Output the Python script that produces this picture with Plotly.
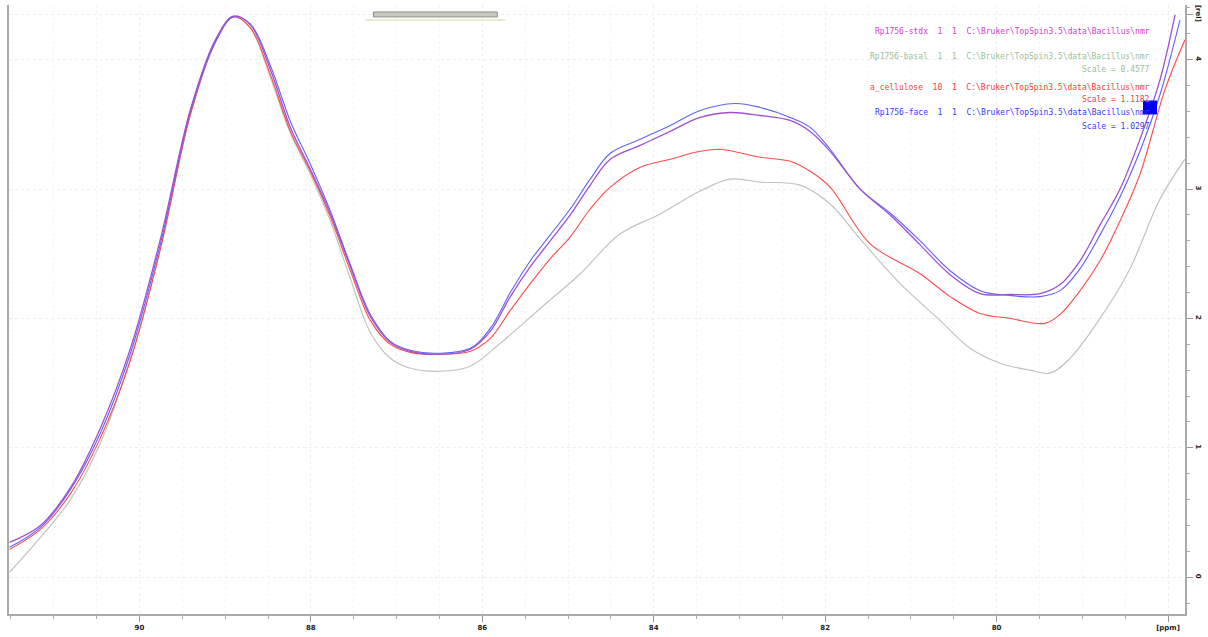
import plotly.graph_objects as go

# ---- data (ppm, relative intensity) ----
W, H = 1208, 637
L, R, T, B = 8.5, 1185, 5, 617

def ppm(x):
    return 90 - (x - 139) / 85.75

def rel(y):
    return (580 - y) / 130

stdx_px = [(9,545),(40,528),(70,490),(100,430),(130,350),(160,240),(190,110),(215,40),(233,16),(250,25),
           (270,70),(290,128),(310,170),(330,215),(350,268),(370,318),(390,344),(410,353),(440,356),(470,351),
           (490,333),(510,298),(530,268),(550,242),(570,216),(590,186),(610,160),(640,146),(670,132),(700,118),
           (730,113),(760,116),(790,121),(810,132),(830,152),(860,190),(890,216),(920,246),(950,276),(980,295),
           (1010,296),(1040,295),(1060,286),(1080,262),(1100,226),(1120,190),(1140,140),(1160,80),(1175,15)]
face_px = [(9,550),(40,530),(70,492),(100,435),(130,355),(160,245),(190,112),(215,42),(233,17),(250,24),
           (270,66),(290,122),(310,165),(330,212),(350,266),(370,316),(390,343),(410,352),(440,355),(470,350),
           (490,330),(510,294),(530,262),(550,236),(570,210),(590,180),(610,154),(640,140),(670,126),(700,111),
           (735,104),(760,108),(790,118),(810,128),(830,150),(860,190),(890,214),(920,242),(950,272),(980,292),
           (1010,297),(1040,298),(1060,292),(1080,270),(1100,236),(1120,198),(1140,152),(1160,95),(1180,20)]
cell_px = [(9,552),(40,532),(70,496),(100,440),(130,362),(160,250),(190,115),(215,42),(233,17),(250,28),
           (270,75),(290,132),(310,172),(330,218),(350,272),(370,322),(390,346),(410,354),(440,356),(470,353),
           (490,340),(510,312),(530,285),(550,260),(570,238),(590,210),(610,188),(640,168),(670,160),(700,152),
           (720,150),(760,158),(790,162),(810,172),(830,188),(870,245),(920,275),(950,298),(980,315),(1010,320),
           (1045,325),(1060,316),(1080,292),(1100,262),(1120,222),(1140,175),(1165,90),(1185,40)]
basal_px = [(9,575),(40,540),(70,502),(100,445),(130,360),(160,250),(190,115),(215,42),(233,17),(250,28),
            (270,78),(290,134),(310,175),(330,222),(350,280),(370,334),(390,360),(410,370),(440,373),(470,368),
            (500,345),(540,310),(580,275),(620,235),(660,215),(700,192),(730,180),(760,183),(800,186),(830,205),
            (860,240),(900,285),(940,322),(970,350),(1000,365),(1030,372),(1050,375),(1070,360),(1100,320),
            (1130,270),(1160,200),(1185,160)]

stdx_ppm = [round(ppm(x), 3) for x, _ in stdx_px]
stdx_int = [round(rel(y), 3) for _, y in stdx_px]
face_ppm = [round(ppm(x), 3) for x, _ in face_px]
face_int = [round(rel(y), 3) for _, y in face_px]
cell_ppm = [round(ppm(x), 3) for x, _ in cell_px]
cell_int = [round(rel(y), 3) for _, y in cell_px]
basal_ppm = [round(ppm(x), 3) for x, _ in basal_px]
basal_int = [round(rel(y), 3) for _, y in basal_px]

x_tickvals = [90, 88, 86, 84, 82, 80, 78]
x_ticktext = ["<b>90</b>", "<b>88</b>", "<b>86</b>", "<b>84</b>", "<b>82</b>", "<b>80</b>", "<b>[ppm]</b>"]
y_tickvals = [0, 1, 2, 3, 4, 4.35]
y_ticktext = ["<b>0</b>", "<b>1</b>", "<b>2</b>", "<b>3</b>", "<b>4</b>", "<b>[rel]</b>"]

legend_lines = [
    ("Rp1756-stdx  1  1  C:\\Bruker\\TopSpin3.5\\data\\Bacillus\\nmr", "#d040c8", 32),
    ("Rp1756-basal  1  1  C:\\Bruker\\TopSpin3.5\\data\\Bacillus\\nmr", "#98c098", 57),
    ("Scale = 0.4577", "#98c098", 70),
    ("a_cellulose  10  1  C:\\Bruker\\TopSpin3.5\\data\\Bacillus\\nmr", "#ff3838", 88),
    ("Scale = 1.1182", "#ff3838", 100),
    ("Rp1756-face  1  1  C:\\Bruker\\TopSpin3.5\\data\\Bacillus\\nmr", "#3838ff", 113),
    ("Scale = 1.0297", "#3838ff", 127),
]

fig = go.Figure()
fig.add_trace(go.Scatter(x=basal_ppm, y=basal_int, mode="lines", line=dict(color="#bcc6bc", width=1.2, shape="spline"), name="Rp1756-basal"))
fig.add_trace(go.Scatter(x=cell_ppm, y=cell_int, mode="lines", line=dict(color="#ff4a4a", width=1.1, shape="spline"), name="a_cellulose"))
fig.add_trace(go.Scatter(x=face_ppm, y=face_int, mode="lines", line=dict(color="#6060ff", width=1.1, shape="spline"), name="Rp1756-face"))
fig.add_trace(go.Scatter(x=stdx_ppm, y=stdx_int, mode="lines", line=dict(color="#a050d0", width=1.3, shape="spline"), name="Rp1756-stdx"))

def px2paper_x(x):
    return (x - L) / (R - L)

def px2paper_y(y):
    return (B - y) / (B - T)

for text, col, ypx in legend_lines:
    fig.add_annotation(x=px2paper_x(1152), y=px2paper_y(ypx), xref="paper", yref="paper",
                       text=text, showarrow=False, xanchor="right", yanchor="middle",
                       font=dict(family="DejaVu Sans Mono", size=8, color=col))

fig.add_shape(type="rect", xref="paper", yref="paper",
              x0=px2paper_x(1143), x1=px2paper_x(1157), y0=px2paper_y(115), y1=px2paper_y(101),
              fillcolor="#0000ee", line=dict(width=0))
fig.add_shape(type="rect", xref="paper", yref="paper",
              x0=px2paper_x(373), x1=px2paper_x(497), y0=px2paper_y(17), y1=px2paper_y(12),
              fillcolor="#c8c8c0", line=dict(color="#909088", width=1))
fig.add_shape(type="line", xref="paper", yref="paper",
              x0=px2paper_x(365), x1=px2paper_x(505), y0=px2paper_y(20), y1=px2paper_y(20),
              line=dict(color="#e8ecd0", width=2))

fig.update_layout(
    width=W, height=H,
    margin=dict(l=L, r=W - R, t=T, b=H - B),
    paper_bgcolor="white", plot_bgcolor="white",
    showlegend=False,
    font=dict(family="DejaVu Sans", size=8, color="#333333"),
)
fig.update_xaxes(
    range=[ppm(L), ppm(R)], autorange=False,
    tickvals=x_tickvals, ticktext=x_ticktext,
    ticks="outside", ticklen=6, tickcolor="#999999", tickwidth=1,
    minor=dict(dtick=0.5, ticks="outside", ticklen=3, tickcolor="#aaaaaa", showgrid=True,
               gridcolor="#f4f4f4", griddash="dot"),
    showgrid=True, gridcolor="#eeeeee", griddash="dot",
    showline=True, linecolor="#aaaaaa", linewidth=2,
    tickfont=dict(family="DejaVu Sans", size=7, color="#222222"),
    zeroline=False,
)
fig.update_yaxes(
    range=[rel(B), rel(T)], autorange=False, side="right",
    tickvals=y_tickvals, ticktext=y_ticktext, tickangle=90,
    ticks="outside", ticklen=6, tickcolor="#999999",
    minor=dict(dtick=0.2, ticks="outside", ticklen=3, tickcolor="#aaaaaa", showgrid=False),
    showgrid=True, gridcolor="#eeeeee", griddash="dot",
    showline=True, linecolor="#aaaaaa", linewidth=2, mirror=True,
    tickfont=dict(family="DejaVu Sans", size=7, color="#222222"),
    zeroline=False,
)
fig.write_html("out.html", config={"displayModeBar": False},
               post_script="document.body.style.margin='0';document.body.style.padding='0';")
